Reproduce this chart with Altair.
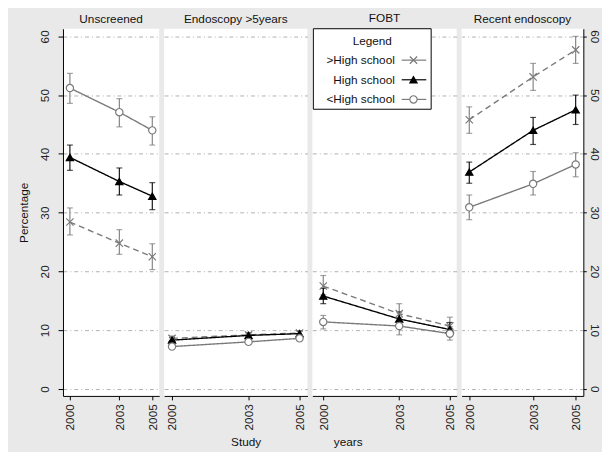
import altair as alt
import pandas as pd

years = [2000, 2003, 2005]
groups = [">High school", "High school", "<High school"]
panels = ["Unscreened", "Endoscopy >5years", "FOBT", "Recent endoscopy"]

# values[panel][group] -> list over years
est = {
    "Unscreened": {
        ">High school": [28.4, 24.8, 22.5],
        "High school": [39.4, 35.3, 32.8],
        "<High school": [51.2, 47.1, 44.0],
    },
    "Endoscopy >5years": {
        ">High school": [8.6, 9.2, 9.5],
        "High school": [8.3, 9.1, 9.4],
        "<High school": [7.2, 8.0, 8.6],
    },
    "FOBT": {
        ">High school": [17.5, 12.8, 10.7],
        "High school": [15.8, 11.9, 10.1],
        "<High school": [11.4, 10.7, 9.4],
    },
    "Recent endoscopy": {
        ">High school": [45.8, 53.1, 57.7],
        "High school": [36.9, 44.0, 47.5],
        "<High school": [30.9, 34.9, 38.2],
    },
}
lower = {
    "Unscreened": {
        ">High school": [26.2, 22.9, 20.3],
        "High school": [37.2, 33.0, 30.5],
        "<High school": [48.6, 44.6, 41.5],
    },
    "Endoscopy >5years": {
        ">High school": [8.2, 8.8, 9.1],
        "High school": [7.9, 8.7, 9.0],
        "<High school": [6.8, 7.6, 8.2],
    },
    "FOBT": {
        ">High school": [16.0, 11.3, 9.3],
        "High school": [14.5, 10.7, 9.0],
        "<High school": [10.2, 9.2, 8.3],
    },
    "Recent endoscopy": {
        ">High school": [43.5, 50.8, 55.4],
        "High school": [35.0, 41.6, 45.0],
        "<High school": [28.8, 33.0, 36.1],
    },
}
upper = {
    "Unscreened": {
        ">High school": [30.8, 27.1, 24.7],
        "High school": [41.5, 37.6, 35.1],
        "<High school": [53.7, 49.4, 46.3],
    },
    "Endoscopy >5years": {
        ">High school": [9.0, 9.6, 9.9],
        "High school": [8.7, 9.5, 9.8],
        "<High school": [7.6, 8.4, 9.0],
    },
    "FOBT": {
        ">High school": [19.3, 14.5, 12.2],
        "High school": [17.1, 13.1, 11.3],
        "<High school": [12.5, 12.1, 10.6],
    },
    "Recent endoscopy": {
        ">High school": [48.0, 55.4, 60.0],
        "High school": [38.6, 46.2, 50.0],
        "<High school": [33.0, 37.0, 40.2],
    },
}

rows = []
for p in panels:
    for g in groups:
        for i, yr in enumerate(years):
            rows.append({"panel": p, "group": g, "year": yr,
                         "value": est[p][g][i], "lo": lower[p][g][i], "hi": upper[p][g][i]})
df = pd.DataFrame(rows)

FONT = "Liberation Sans"
GRAY = "#7a7a7a"
X_PATH = "M-1,-1L1,1M-1,1L1,-1"

col_scale = alt.Scale(domain=groups, range=[GRAY, "#000000", GRAY])
dash_scale = alt.Scale(domain=groups, range=[[6, 4], [1, 0], [1, 0]])
shape_scale = alt.Scale(domain=groups, range=[X_PATH, "triangle-up", "circle"])
fill_scale = alt.Scale(domain=groups, range=["transparent", "#000000", "#ffffff"])
yscale = alt.Scale(domain=[-1.2, 61.3], nice=False, zero=False)

PLOT_H = 374
widths = [98, 146, 147, 124]
xdomains = [[1999.58, 2005.42], [1999.69, 2005.31], [1999.57, 2005.27], [1999.64, 2005.36]]
xtitles = [None, "Study", "years", None]
xtitle_x = [0, 83, 36, 0]

grid_kw = dict(grid=True, gridDash=[4, 3, 1, 3], gridColor="#b0b0b0", gridWidth=1,
               values=[0, 10, 20, 30, 40, 50, 60])


def y_axis(i):
    if i == 0:
        return alt.Axis(orient="left", title="Percentage", titleFontSize=12, titleFont=FONT,
                        titleFontWeight="normal", titleColor="#111", titlePadding=8,
                        labelAngle=270, labelAlign="center", labelBaseline="bottom",
                        labelPadding=7, labelFontSize=12, labelFont=FONT, labelColor="#222",
                        tickSize=5, tickColor="#000", domainColor="#000", **grid_kw)
    if i == 3:
        return alt.Axis(orient="right", title=None,
                        labelAngle=90, labelAlign="center", labelBaseline="bottom",
                        labelPadding=1, labelFontSize=12, labelFont=FONT, labelColor="#222",
                        tickSize=3, tickColor="#000", domainColor="#000", **grid_kw)
    return alt.Axis(title=None, labels=False, ticks=False, domain=False, **grid_kw)


def x_axis(i):
    kw = dict(values=years, format="d", labelAngle=270, labelAlign="right",
              labelBaseline="middle", labelPadding=4, labelFontSize=12, labelFont=FONT,
              labelColor="#222", tickSize=4, tickColor="#000", domainColor="#000",
              grid=False)
    if xtitles[i]:
        return alt.Axis(title=xtitles[i], titleFontSize=12, titleFont=FONT,
                        titleFontWeight="normal", titleColor="#111",
                        titleX=xtitle_x[i], titleY=47, titleAlign="center",
                        titleBaseline="middle", **kw)
    return alt.Axis(title=None, **kw)


def legend_layers():
    layers = []
    box = alt.Chart(pd.DataFrame({"a": [0]})).mark_rect(
        fill="#ffffff", stroke="#000000", strokeWidth=1).encode(
        x=alt.value(1), x2=alt.value(121), y=alt.value(0), y2=alt.value(82))
    layers.append(box)
    title = alt.Chart(pd.DataFrame({"t": ["Legend"]})).mark_text(
        font=FONT, fontSize=12, color="#111", align="center", baseline="middle").encode(
        x=alt.value(61), y=alt.value(13), text="t:N")
    layers.append(title)
    shapes = [X_PATH, "triangle-up", "circle"]
    fills = ["transparent", "#000000", "#ffffff"]
    cols = [GRAY, "#000000", GRAY]
    for k, g in enumerate(groups):
        yy = 32 + 20 * k
        d = pd.DataFrame({"label": [g]})
        layers.append(alt.Chart(d).mark_text(font=FONT, fontSize=12, color="#111",
                                             align="right", baseline="middle").encode(
            x=alt.value(84), y=alt.value(yy), text="label:N"))
        layers.append(alt.Chart(d).mark_rule(color=cols[k], strokeWidth=1.2).encode(
            x=alt.value(91), x2=alt.value(116), y=alt.value(yy)))
        layers.append(alt.Chart(d).mark_point(shape=shapes[k], fill=fills[k], stroke=cols[k],
                                              filled=True, size=55, strokeWidth=1.2,
                                              opacity=1).encode(
            x=alt.value(103), y=alt.value(yy)))
    return layers


charts = []
for i, p in enumerate(panels):
    d = df[df.panel == p]
    xenc = alt.X("year:Q", scale=alt.Scale(domain=xdomains[i], nice=False, zero=False),
                 axis=x_axis(i))
    base = alt.Chart(d)
    line = base.mark_line(strokeWidth=1.4).encode(
        x=xenc,
        y=alt.Y("value:Q", scale=yscale, axis=y_axis(i)),
        color=alt.Color("group:N", scale=col_scale, legend=None),
        strokeDash=alt.StrokeDash("group:N", scale=dash_scale, legend=None),
    )
    bars = base.mark_rule(strokeWidth=1.1).encode(
        x=xenc,
        y=alt.Y("lo:Q", scale=yscale, axis=y_axis(i)),
        y2="hi:Q",
        color=alt.Color("group:N", scale=col_scale, legend=None),
    )
    cap_lo = base.mark_tick(size=6, thickness=1.2, orient="horizontal").encode(
        x=xenc,
        y=alt.Y("lo:Q", scale=yscale, axis=y_axis(i)),
        color=alt.Color("group:N", scale=col_scale, legend=None),
    )
    cap_hi = base.mark_tick(size=6, thickness=1.2, orient="horizontal").encode(
        x=xenc,
        y=alt.Y("hi:Q", scale=yscale, axis=y_axis(i)),
        color=alt.Color("group:N", scale=col_scale, legend=None),
    )
    pts = base.mark_point(filled=True, size=55, strokeWidth=1.2, opacity=1).encode(
        x=xenc,
        y=alt.Y("value:Q", scale=yscale, axis=y_axis(i)),
        shape=alt.Shape("group:N", scale=shape_scale, legend=None),
        fill=alt.Fill("group:N", scale=fill_scale, legend=None),
        stroke=alt.Stroke("group:N", scale=col_scale, legend=None),
    )
    layers = [line, bars, cap_lo, cap_hi, pts]
    if p == "FOBT":
        layers += legend_layers()
    c = alt.layer(*layers).properties(
        width=widths[i], height=PLOT_H,
        title=alt.TitleParams(p, font=FONT, fontSize=12, fontWeight="normal",
                              color="#111", offset=3, anchor="middle"),
    )
    charts.append(c)

chart = alt.hconcat(*charts, spacing=5).properties(
    background="#e9e9e9",
    padding={"left": 9, "top": 0, "right": 2, "bottom": 0},
).configure_view(stroke=None, fill="#ffffff")

chart.save("out.html", embed_options={"renderer": "svg", "actions": False})
